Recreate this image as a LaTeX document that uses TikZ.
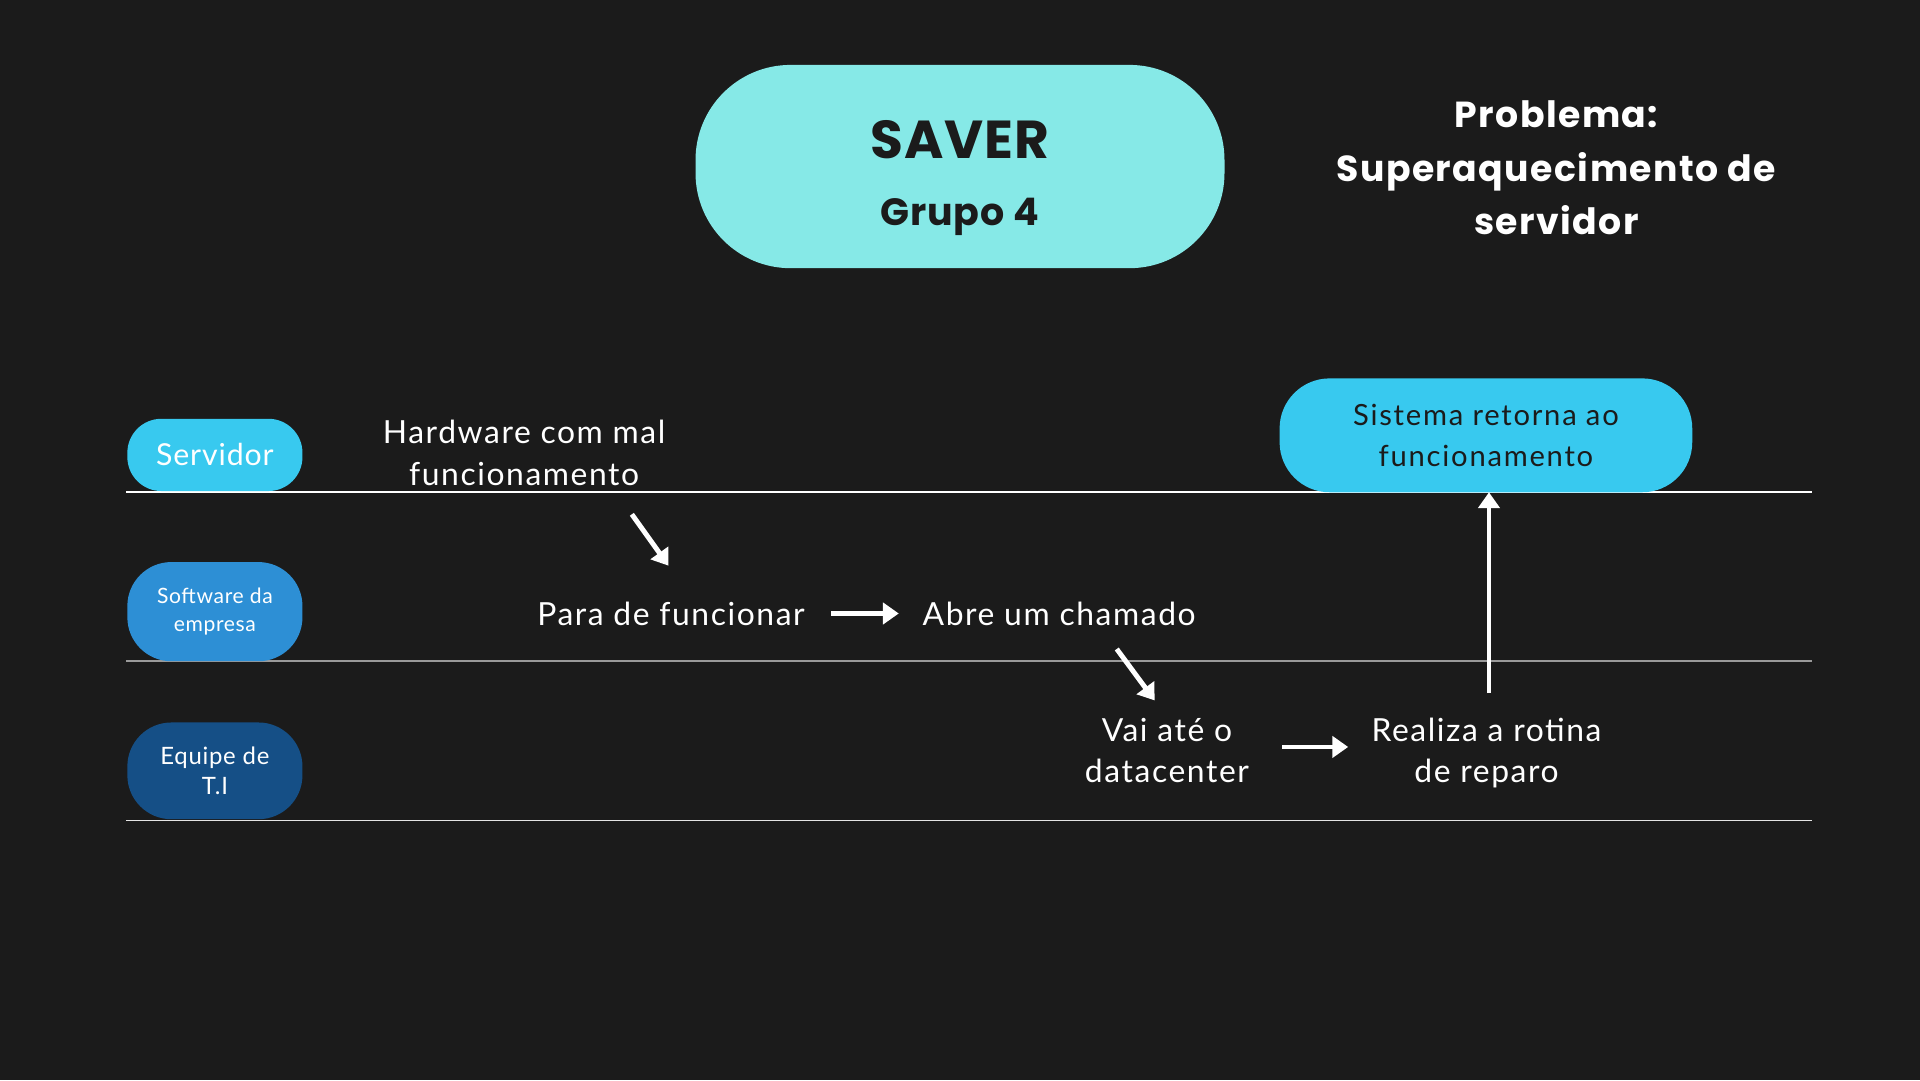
\documentclass[tikz,border=0pt]{standalone}
\usepackage{fontspec}
\setmainfont{Lato}
\newfontfamily\titlefont{Poppins}
\usetikzlibrary{arrows.meta}
\definecolor{bg}{HTML}{1B1B1B}
\definecolor{titlecol}{HTML}{86E9E7}
\definecolor{servcol}{HTML}{38C9EF}
\definecolor{softcol}{HTML}{2D8FD5}
\definecolor{equipecol}{HTML}{154F86}
\definecolor{midline}{HTML}{9A9A9A}
\tikzset{
  lanebox/.style={rounded corners=#1, inner sep=0pt, align=center, text=white},
  body/.style={text=white, align=center, inner sep=0pt, font=\fontsize{9.05}{11.8}\selectfont\addfontfeatures{LetterSpace=5}},
  flow/.style={white, line width=1.4pt, -{Triangle[width=6pt,length=4.5pt]}},
  laneline/.style={line width=0.5pt}
}
\begin{document}
\begin{tikzpicture}[x=0.012245cm,y=-0.012245cm]
\fill[bg] (0,0) rectangle (1568,882);
\useasboundingbox (0,0) rectangle (1568,882);

% title
\node[lanebox=0.95cm, fill=titlecol, minimum width=432*0.012245cm, minimum height=166*0.012245cm] (title) at (784,136) {};
\node[text=bg, inner sep=0pt, font=\titlefont\bfseries\fontsize{15.2}{16}\selectfont\addfontfeatures{LetterSpace=2}] (saver) at (784,114) {SAVER};
\node[text=bg, inner sep=0pt, font=\titlefont\bfseries\fontsize{10.8}{12}\selectfont\addfontfeatures{LetterSpace=2}] (grupo) at (784,177) {Grupo 4};

\node[text=white, align=center, inner sep=0pt, font=\titlefont\bfseries\fontsize{10.3}{15.3}\selectfont\addfontfeatures{LetterSpace=4}] (prob) at (1271,137) {Problema:\\Superaquecimento de\\servidor};

% lane lines
\coordinate (l1a) at (103,402); \coordinate (l1b) at (1480,402);
\coordinate (l2a) at (103,540); \coordinate (l2b) at (1480,540);
\coordinate (l3a) at (103,670); \coordinate (l3b) at (1480,670);
\draw[laneline, white] (l1a) -- (l1b);
\draw[laneline, midline] (l2a) -- (l2b);
\draw[laneline, white!90!black] (l3a) -- (l3b);

% lane labels
\node[lanebox=0.34cm, fill=servcol, minimum width=143*0.012245cm, minimum height=59*0.012245cm, font=\fontsize{8.6}{11}\selectfont\addfontfeatures{LetterSpace=3}] (serv) at (175.5,371.5) {Servidor};
\node[lanebox=0.44cm, fill=softcol, minimum width=143*0.012245cm, minimum height=81*0.012245cm, font=\fontsize{6}{8}\selectfont\addfontfeatures{LetterSpace=3}] (soft) at (175.5,499.5) {Software da\\empresa};
\node[lanebox=0.44cm, fill=equipecol, minimum width=143*0.012245cm, minimum height=79*0.012245cm, font=\fontsize{6.8}{8.7}\selectfont\addfontfeatures{LetterSpace=3}] (equipe) at (175.5,629.5) {Equipe de\\T.I};

% result box
\node[lanebox=0.5cm, fill=servcol, text=bg, minimum width=337*0.012245cm, minimum height=93*0.012245cm, font=\fontsize{8.3}{11.5}\selectfont\addfontfeatures{LetterSpace=6}] (sis) at (1213.5,355.5) {Sistema retorna ao\\funcionamento};

% steps
\node[body] (hw) at (428,370) {Hardware com mal\\funcionamento};
\node[body] (para) at (548,501) {Para de funcionar};
\node[body] (abre) at (865,501) {Abre um chamado};
\node[body] (vai) at (953,613) {Vai até o\\datacenter};
\node[body] (rea) at (1214,615) {Realiza a rotina\\de reparo};

% arrows
\coordinate (a1s) at (516,420); \coordinate (a1e) at (546,462);
\coordinate (a2s) at (679,501); \coordinate (a2e) at (734,501);
\coordinate (a3s) at (912,530); \coordinate (a3e) at (943,572);
\coordinate (a4s) at (1047,610); \coordinate (a4e) at (1101,610);
\coordinate (a5s) at (1216,566); \coordinate (a5e) at (1216,402);
\draw[flow] (a1s) -- (a1e);
\draw[flow] (a2s) -- (a2e);
\draw[flow] (a3s) -- (a3e);
\draw[flow] (a4s) -- (a4e);
\draw[flow] (a5s) -- (a5e);
\end{tikzpicture}
\end{document}
